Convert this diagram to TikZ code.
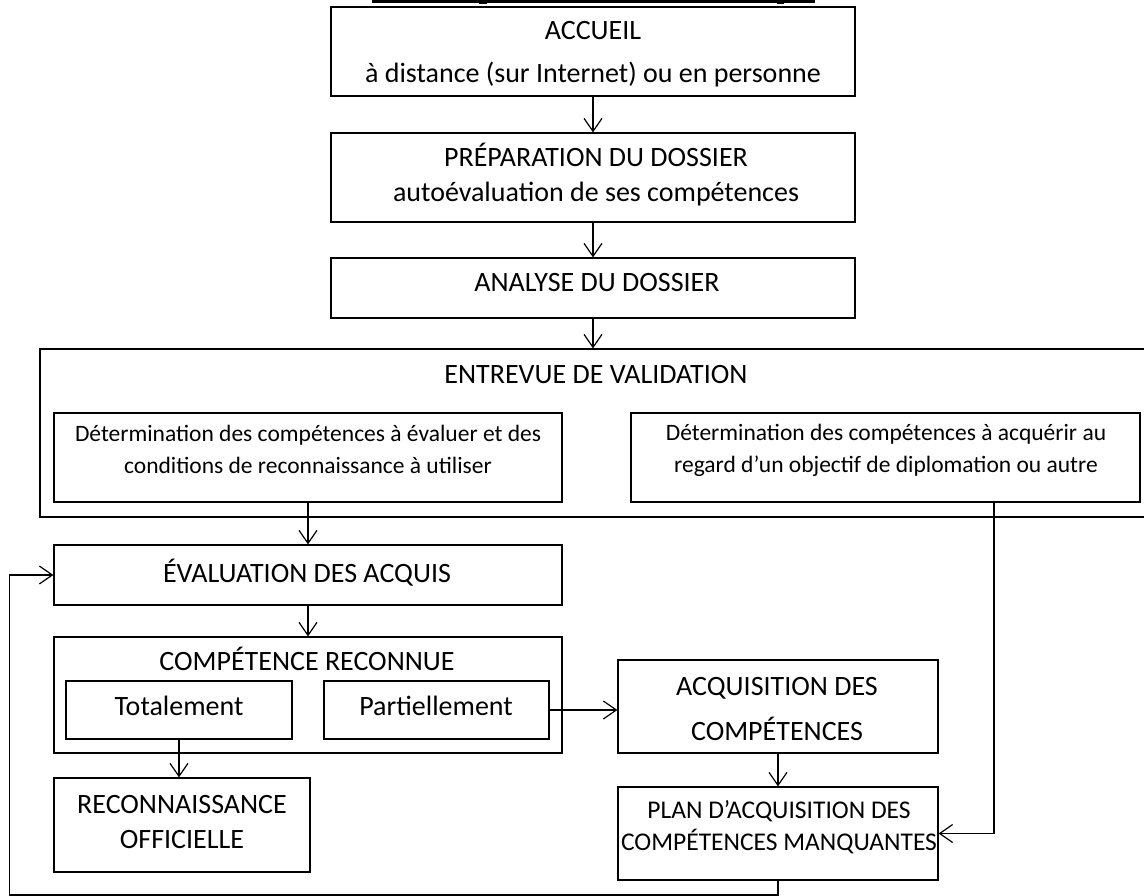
\documentclass[tikz,border=0pt]{standalone}
\usepackage{fontspec}
\setmainfont{Carlito}
\usetikzlibrary{arrows.meta}
\begin{document}
\begin{tikzpicture}[x=1pt,y=-1pt,
  box/.style={draw, line width=1.2pt, inner sep=0pt},
  lbl/.style={anchor=base, inner sep=0pt, font=\fontsize{28}{34}\selectfont},
  lblplan/.style={anchor=base, inner sep=0pt, font=\fontsize{25.5}{30}\selectfont},
  small/.style={anchor=base, inner sep=0pt, font=\fontsize{23.5}{28}\selectfont},
  conn/.style={line width=1.2pt, -{Straight Barb[length=13pt,width=18pt]}},
  wire/.style={line width=1.2pt}]
\useasboundingbox (0,0) rectangle (1144,896);
\clip (0,0) rectangle (1144,896);

% cut-off strip at the top
\fill (372,0) rectangle (815,2.6);
\fill (479,0) rectangle (487,4.5);
\fill (777,0) rectangle (784,4.5);

% boxes
\node[box, minimum width=524pt, minimum height=89pt] (acc) at (593,51.5) {};
\node[box, minimum width=524pt, minimum height=89pt] (prep) at (593,177.5) {};
\node[box, minimum width=524pt, minimum height=60pt] (ana) at (593,288) {};
\node[box, minimum width=1120pt, minimum height=168pt] (entre) at (600,433) {};
\node[box, minimum width=508pt, minimum height=89pt] (ldet) at (308,457.5) {};
\node[box, minimum width=509pt, minimum height=89pt] (rdet) at (885.5,457.5) {};
\node[box, minimum width=508pt, minimum height=60pt] (eval) at (308,575) {};
\node[box, minimum width=508pt, minimum height=116pt] (comp) at (308,695) {};
\node[box, minimum width=226pt, minimum height=58pt] (tot) at (179,710) {};
\node[box, minimum width=225pt, minimum height=58pt] (part) at (436.5,710) {};
\node[box, minimum width=256pt, minimum height=94pt] (recon) at (182,825) {};
\node[box, minimum width=320pt, minimum height=93pt] (acq) at (778,706.5) {};
\node[box, minimum width=320pt, minimum height=93pt] (plan) at (778,833.5) {};

% texts
\node[lbl] (accA) at (593,40) {ACCUEIL};
\node[lbl] (accB) at (593,83) {à distance (sur Internet) ou en personne};
\node[lbl] (prepA) at (596,167) {PRÉPARATION DU DOSSIER};
\node[lbl] (prepB) at (596,202) {autoévaluation de ses compétences};
\node[lbl] (anaA) at (597,292) {ANALYSE DU DOSSIER};
\node[lbl] (entA) at (596,383) {ENTREVUE DE VALIDATION};
\node[small] (ldetA) at (308,441) {Détermination des compétences à évaluer et des};
\node[small] (ldetB) at (308,473) {conditions de reconnaissance à utiliser};
\node[small] (rdetA) at (886,440) {Détermination des compétences à acquérir au};
\node[small] (rdetB) at (886,472) {regard d’un objectif de diplomation ou autre};
\node[lbl] (evalA) at (307,582) {ÉVALUATION DES ACQUIS};
\node[lbl] (compA) at (307,670) {COMPÉTENCE RECONNUE};
\node[lbl] (totA) at (179,715) {Totalement};
\node[lbl] (partA) at (436,715) {Partiellement};
\node[lbl] (reconA) at (182,813) {RECONNAISSANCE};
\node[lbl] (reconB) at (182,848) {OFFICIELLE};
\node[lbl] (acqA) at (777,695) {ACQUISITION DES};
\node[lbl] (acqB) at (777,740) {COMPÉTENCES};
\node[lblplan] (planA) at (779,818) {PLAN D’ACQUISITION DES};
\node[lblplan] (planB) at (779,850) {COMPÉTENCES MANQUANTES};

% connectors
\draw[conn] (acc.south) -- (prep.north);
\draw[conn] (prep.south) -- (ana.north);
\draw[conn] (ana.south) -- (ana.south |- entre.north);
\draw[conn] (ldet.south) -- (eval.north);
\draw[conn] (eval.south) -- (comp.north);
\draw[conn] (tot.south) -- (tot.south |- recon.north);
\draw[conn] (part.east) -- (part.east -| acq.west);
\draw[conn] (acq.south) -- (plan.north);
\coordinate (rl) at (994,502);
\draw[conn] (rl) |- (plan.east);
\coordinate (lb) at (9.5,895);
\draw[conn] (plan.south) |- (lb) |- (eval.west);
\end{tikzpicture}
\end{document}
